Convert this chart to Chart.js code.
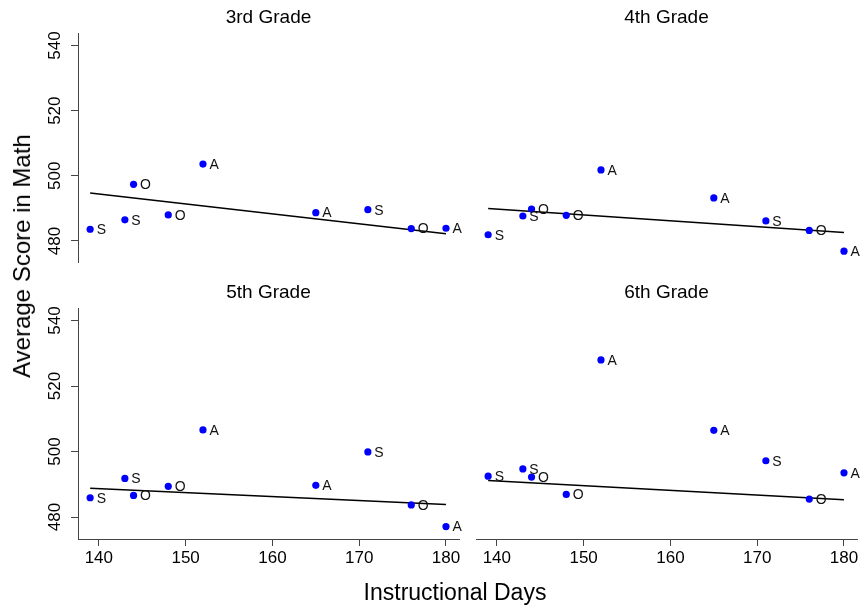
<!DOCTYPE html>
<html>
<head>
<meta charset="utf-8">
<script src="https://cdn.jsdelivr.net/npm/chart.js@4/dist/chart.umd.min.js"></script>
<style>
  html, body { margin: 0; padding: 0; background: #fff; }
  #wrap { position: relative; width: 867px; height: 608px; overflow: hidden; font-family: "Liberation Sans", Arial, sans-serif; }
  #wrap canvas { position: absolute; }
  .axis-title { position: absolute; color: #000; white-space: nowrap; }
  #xTitle { left: 455px; top: 592px; font-size: 23px; transform: translate(-50%, -50%); }
  #yTitle { left: 22px; top: 256px; font-size: 24px; transform: translate(-50%, -50%) rotate(-90deg); }
</style>
</head>
<body>
<div id="wrap">
  <canvas id="g3" width="470" height="275" style="left:0;top:0"></canvas>
  <canvas id="g4" width="397" height="275" style="left:470px;top:0"></canvas>
  <canvas id="g5" width="470" height="333" style="left:0;top:275px"></canvas>
  <canvas id="g6" width="397" height="333" style="left:470px;top:275px"></canvas>
  <div class="axis-title" id="xTitle">Instructional Days</div>
  <div class="axis-title" id="yTitle">Average Score in Math</div>
</div>
<script>
// instructional days and state group (S, O, A) of each point
const days = [139, 143, 144, 148, 152, 165, 171, 176, 180];
const groups = ['S', 'S', 'O', 'O', 'A', 'A', 'S', 'O', 'A'];

// average math score per grade
const grade3 = [483.6, 486.5, 497.4, 488.0, 503.6, 488.7, 489.6, 483.8, 483.9];
const grade4 = [482.5, 488.2, 490.3, 488.4, 502.2, 493.7, 486.7, 483.8, 477.5];
const grade5 = [485.9, 491.8, 486.6, 489.4, 506.6, 489.7, 499.9, 483.7, 477.1];
const grade6 = [492.5, 494.7, 492.2, 486.9, 528.0, 506.5, 497.2, 485.5, 493.5];

// fitted line, value at first and last day
const fitDays = [139, 180];
const fit3 = [494.7, 482.2];
const fit4 = [490.5, 483.2];
const fit5 = [488.8, 483.8];
const fit6 = [491.2, 485.3];

const xTicks = [140, 150, 160, 170, 180];
const yTicks = [480, 500, 520, 540];

Chart.defaults.font.family = '"Liberation Sans", Arial, sans-serif';
Chart.defaults.color = '#000';

const pointLetters = {
  id: 'pointLetters',
  afterDatasetsDraw(chart) {
    const ctx = chart.ctx;
    const meta = chart.getDatasetMeta(0);
    ctx.save();
    ctx.font = '14px "Liberation Sans", Arial, sans-serif';
    ctx.fillStyle = '#111';
    ctx.textBaseline = 'middle';
    ctx.textAlign = 'left';
    meta.data.forEach((pt, i) => ctx.fillText(groups[i], pt.x + 6.5, pt.y + 1));
    ctx.restore();
  }
};

function makePanel(canvasId, title, values, fit, showX, showY, padding) {
  const ctx = document.getElementById(canvasId);
  return new Chart(ctx, {
    type: 'scatter',
    data: {
      datasets: [
        {
          data: days.map((d, i) => ({ x: d, y: values[i] })),
          backgroundColor: '#0000ff',
          borderWidth: 0,
          pointRadius: 3.6,
          pointHoverRadius: 3.6,
        },
        {
          type: 'line',
          data: fitDays.map((d, i) => ({ x: d, y: fit[i] })),
          borderColor: '#000',
          borderWidth: 1.5,
          pointRadius: 0,
          fill: false,
        }
      ]
    },
    options: {
      responsive: false,
      animation: false,
      events: [],
      layout: { padding },
      plugins: {
        legend: { display: false },
        tooltip: { enabled: false },
        title: {
          display: true,
          text: title,
          fullSize: false,
          color: '#000',
          font: { size: 19, weight: 'normal' },
          padding: { top: 6, bottom: 5 }
        }
      },
      scales: {
        x: {
          type: 'linear',
          display: showX,
          min: 137.6,
          max: 181.5,
          afterBuildTicks: s => { s.ticks = xTicks.map(v => ({ value: v })); },
          afterFit: s => { s.height = showX ? 36 : 0; },
          grid: { drawOnChartArea: false, drawTicks: true, tickLength: 7, color: '#444' },
          border: { display: true, color: '#444', width: 1 },
          ticks: { font: { size: 17 }, padding: 2, maxRotation: 0, autoSkip: false, color: '#000' }
        },
        y: {
          type: 'linear',
          display: showY,
          min: 473.3,
          max: 543.6,
          afterBuildTicks: s => { s.ticks = yTicks.map(v => ({ value: v })); },
          afterFit: s => { s.width = showY ? 78 : 0; },
          grid: { drawOnChartArea: false, drawTicks: true, tickLength: 7, color: '#444' },
          border: { display: true, color: '#444', width: 1 },
          ticks: { font: { size: 17 }, padding: 2, minRotation: 90, maxRotation: 90, crossAlign: 'center', autoSkip: false, color: '#000' }
        }
      }
    },
    plugins: [pointLetters]
  });
}

makePanel('g3', '3rd Grade', grade3, fit3, false, true, { left: 0, right: 11, top: 0, bottom: 10 });
makePanel('g4', '4th Grade', grade4, fit4, false, false, { left: 6, right: 10, top: 0, bottom: 10 });
makePanel('g5', '5th Grade', grade5, fit5, true, true, { left: 0, right: 11, top: 0, bottom: 33 });
makePanel('g6', '6th Grade', grade6, fit6, true, false, { left: 6, right: 10, top: 0, bottom: 33 });
</script>
</body>
</html>
